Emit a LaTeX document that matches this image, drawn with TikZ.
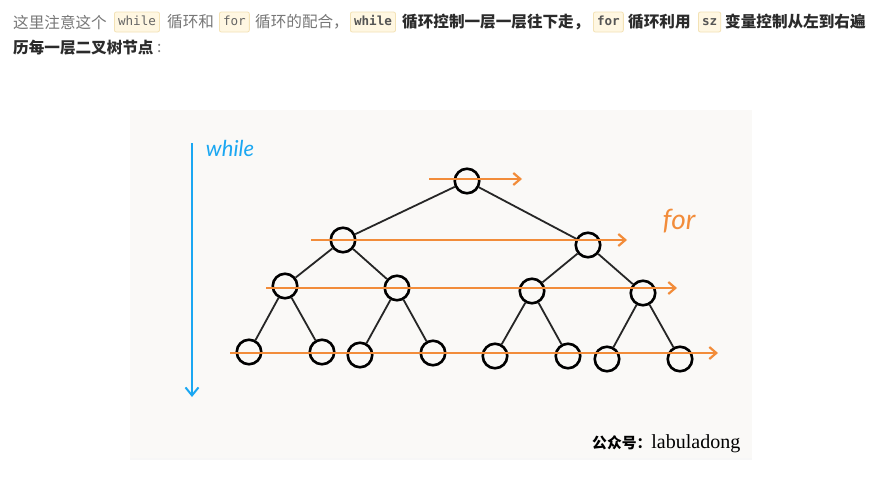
\documentclass[tikz,border=0pt]{standalone}
\usepackage{fontspec}
\usetikzlibrary{arrows.meta,shadows}
\newfontfamily\cjk{Noto Sans CJK SC}
\newfontfamily\codefont{DejaVu Sans Mono}
\newfontfamily\handfont{Lato}
\newfontfamily\wmserif{Liberation Serif}
\definecolor{txtgray}{HTML}{777777}
\definecolor{txtdark}{HTML}{2B2B2B}
\definecolor{codebg}{HTML}{FFF7E2}
\definecolor{codeline}{HTML}{F3E2B6}
\definecolor{paper}{HTML}{FAF9F7}
\definecolor{forcol}{HTML}{F28C3A}
\definecolor{whilecol}{HTML}{1AA7F2}
\tikzset{
  plaintxt/.style={anchor=west, inner sep=0pt, text=txtgray,
    font=\cjk\fontsize{15.6}{18}\selectfont},
  strongtxt/.style={plaintxt, text=txtdark,
    font=\cjk\bfseries\fontsize{15.6}{18}\selectfont},
  codebox/.style={anchor=west, fill=codebg, draw=codeline, line width=0.8pt,
    rounded corners=2pt, inner xsep=3.6pt, inner ysep=0pt, minimum height=20pt,
    text height=9.5pt, text depth=2.5pt, text=txtgray!85!black,
    font=\codefont\fontsize{12.6}{14}\selectfont},
  codeboxb/.style={codebox, text=txtdark!80, font=\codefont\bfseries\fontsize{12.6}{14}\selectfont},
  treenode/.style={circle, draw=black, line width=2.6pt, minimum size=24.5pt, inner sep=0pt},
  treeedge/.style={line width=1.8pt, black!85},
  forarrow/.style={draw=forcol, line width=2.2pt, -{Straight Barb[length=7pt,width=12pt]}},
  whilearrow/.style={draw=whilecol, line width=2pt, -{Straight Barb[length=8pt,width=13pt]}}
}
\begin{document}
\begin{tikzpicture}[x=1pt, y=-1pt]
\useasboundingbox (0,0) rectangle (889,477);
\fill[white] (0,0) rectangle (889,477);
% text above the picture:
\node[plaintxt] (t1) at (13,22) {这里注意这个};
\node[codebox] (c1) at (114,22) {while};
\node[plaintxt] (t2) at (167,22) {循环和};
\node[codebox] (c2) at (219,22) {for};
\node[plaintxt] (t3) at (255,22) {循环的配合，};
\node[codeboxb] (c3) at (350,22) {while};
\node[strongtxt] (t4) at (402,22) {循环控制一层一层往下走，};
\node[codeboxb] (c4) at (593,22) {for};
\node[strongtxt] (t5) at (628,22) {循环利用};
\node[codeboxb] (c5) at (698,22) {sz};
\node[strongtxt] (t6) at (725,22) {变量控制从左到右遍};
\node[strongtxt] (t7) at (13,48) {历每一层二叉树节点};
\node[plaintxt] (t8) at (157,48) {:};
% paper:
\path[fill=paper, drop shadow={opacity=0.06, shadow xshift=0pt, shadow yshift=-2pt}]
  (130,110) rectangle (752,458);
% while / for labels:
\coordinate (ws) at (192,143);
\coordinate (we) at (192,397);
\draw[whilearrow] (ws) -- (we);
\node[text=whilecol, font=\handfont\itshape\fontsize{22}{24}\selectfont] (wl) at (230,148) {while};
\node[text=forcol, font=\handfont\itshape\fontsize{28}{30}\selectfont] (fl) at (679,221) {for};
% tree nodes:
\node[treenode] (n1) at (467,181) {};
\node[treenode] (n2) at (343,240) {};
\node[treenode] (n3) at (588,245) {};
\node[treenode] (n4) at (285,286) {};
\node[treenode] (n5) at (397,288) {};
\node[treenode] (n6) at (532,291) {};
\node[treenode] (n7) at (643,293) {};
\node[treenode] (n8) at (249,352) {};
\node[treenode] (n9) at (322,352) {};
\node[treenode] (n10) at (360,355) {};
\node[treenode] (n11) at (433,353) {};
\node[treenode] (n12) at (495,356) {};
\node[treenode] (n13) at (568,356) {};
\node[treenode] (n14) at (607,359) {};
\node[treenode] (n15) at (680,359) {};
\foreach \a/\b in {1/2,1/3,2/4,2/5,3/6,3/7,4/8,4/9,5/10,5/11,6/12,6/13,7/14,7/15}
  \draw[treeedge] (n\a) -- (n\b);
% for arrows, one per level:
\coordinate (f1s) at (429,179); \coordinate (f1e) at (522,179);
\coordinate (f2s) at (311,240); \coordinate (f2e) at (627,240);
\coordinate (f3s) at (266,288); \coordinate (f3e) at (677,288);
\coordinate (f4s) at (230,353); \coordinate (f4e) at (718,353);
\draw[forarrow] (f1s) -- (f1e);
\draw[forarrow] (f2s) -- (f2e);
\draw[forarrow] (f3s) -- (f3e);
\draw[forarrow] (f4s) -- (f4e);
% watermark:
\node[anchor=base west, inner sep=0pt, text=black] (wm) at (592,448)
  {\cjk\bfseries\fontsize{14.8}{16}\selectfont 公众号：\wmserif\mdseries\fontsize{20}{21}\selectfont labuladong};
\end{tikzpicture}
\end{document}
